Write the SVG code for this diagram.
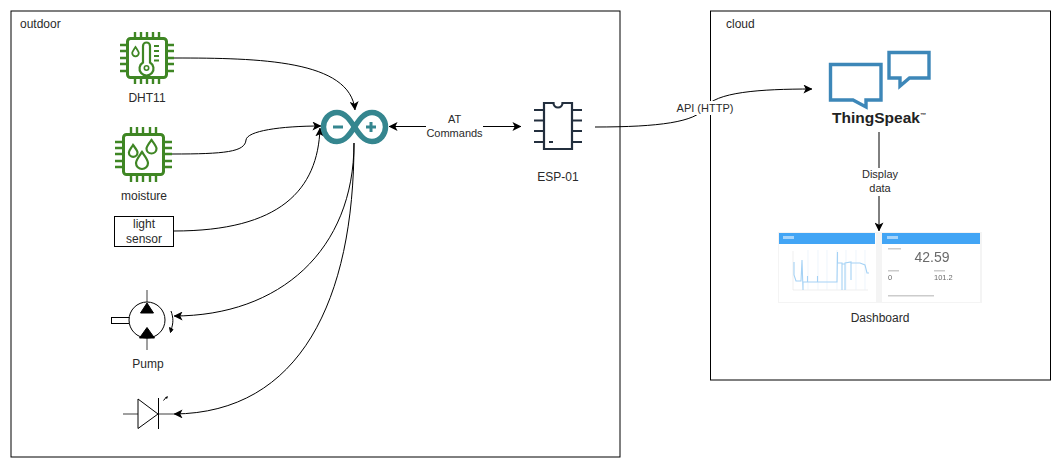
<svg xmlns="http://www.w3.org/2000/svg" width="1061" height="467" viewBox="0 0 1061 467">
<style>
text{font-family:"Liberation Sans",Arial,sans-serif;font-size:12px;fill:#2a2a2a;text-anchor:middle}
.e{font-size:11px}
.frame{fill:#fff;stroke:#000;stroke-width:1}
.t{text-anchor:start}
.conn{fill:none;stroke:#000;stroke-width:1}
.lab{fill:#fff;stroke:none}
.chip{fill:none;stroke:#3f8624;stroke-width:3;stroke-linejoin:round}
.pin{stroke:#3f8624;stroke-width:2.400;fill:none}
.drop{fill:none;stroke:#3f8624;stroke-width:2.200}
.esp{fill:none;stroke:#232f3e;stroke-width:2.200}
.sym{fill:#fff;stroke:#000;stroke-width:1}
.lead{stroke:#808080;stroke-width:1.500;fill:none}
.ts{fill:#fff;stroke:#3d87b8;stroke-width:3.400}
.tiny{fill:#ccc}
</style>
<defs>
<marker id="a" viewBox="0 0 10 10" refX="9.500" refY="5" markerWidth="9" markerHeight="9" markerUnits="userSpaceOnUse" orient="auto-start-reverse"><path d="M0 0L10 5L0 10L2.500 5Z" fill="#000"/></marker>
<filter id="b" x="-5%" y="-5%" width="110%" height="110%"><feGaussianBlur stdDeviation="0.4"/></filter>
</defs>

<g id="outdoor"><rect class="frame" x="11" y="11" width="609" height="446"/><text class="t" x="20" y="28">outdoor</text></g>
<g id="cloud"><rect class="frame" x="710.500" y="11" width="340" height="369"/><text class="t" x="726" y="28">cloud</text></g>

<g id="connectors">
<path class="conn" marker-end="url(#a)" d="M174 58C260 58 350 60 355 110"/>
<path class="conn" marker-end="url(#a)" d="M172 154C225 154 245 152 246 140C247 131 280 126 321 126"/>
<path class="conn" marker-end="url(#a)" d="M174 231C280 231 318 190 320 128"/>
<path class="conn" marker-end="url(#a)" d="M354 143C354 250 280 316 174 316"/>
<path class="conn" marker-end="url(#a)" d="M354 143C354 300 300 413 174 414"/>
<path class="conn" marker-start="url(#a)" marker-end="url(#a)" d="M389 126.500H521"/>
<path class="conn" marker-end="url(#a)" d="M595 127C660 127 695 122 705 108C715 92 760 89 812 89"/>
<path class="conn" marker-end="url(#a)" d="M879 132V231"/>
</g>

<g id="dht11">
<rect class="chip" x="127.500" y="38.500" width="39" height="39" rx="3"/>
<path class="pin" d="M135 32v6M141 32v6M147 32v6M153 32v6M159 32v6M135 78v6M141 78v6M147 78v6M153 78v6M159 78v6M120 45h7M120 51h7M120 58h7M120 64h7M120 71h7M167 45h7M167 51h7M167 58h7M167 64h7M167 71h7"/>
<path class="drop" d="M143 46a3.500 3.500 0 0 1 7 0V62.500a7 7 0 1 1 -7 0Z"/>
<circle cx="146.500" cy="68" r="2.200" fill="none" stroke="#3f8624" stroke-width="1.600"/>
<path class="drop" d="M135.500 47c2 3 3.300 5 3.300 6a3.300 3.300 0 0 1 -6.600 0c0-1 1.300-3 3.300-6Z" style="stroke-width:1.800px"/>
<path class="pin" d="M154 46h5M154 51h5M154 56h5M154 60.500h5" style="stroke-width:2px"/>
<text x="147" y="102">DHT11</text>
</g>

<g id="moisture">
<rect class="chip" x="123.500" y="134.500" width="40" height="40" rx="3"/>
<path class="pin" d="M131 127v7M137 127v7M143 127v7M150 127v7M156 127v7M131 175v7M137 175v7M143 175v7M150 175v7M156 175v7M115 142h8M115 148h8M115 154h8M115 161h8M115 167h8M164 142h8M164 148h8M164 154h8M164 161h8M164 167h8"/>
<path class="drop" d="M133 145c3 4 4.500 5.500 4.500 7.500a4.300 4.300 0 0 1 -8.600 0c0-2 1.500-3.500 4.100-7.500Z"/>
<path class="drop" d="M151.500 140c3 4 5 6.500 5 8.500a5 5 0 0 1 -10 0c0-2 2-4.500 5-8.500Z"/>
<path class="drop" d="M142 152c3.500 5 6 8 6 11a6 6 0 0 1 -12 0c0-3 2.500-6 6-11Z"/>
<text x="144" y="200">moisture</text>
</g>

<g id="light-sensor"><rect class="sym" x="114.500" y="216.500" width="59" height="30"/><text x="144" y="228">light</text><text x="144" y="243">sensor</text></g>

<g id="pump">
<path class="lead" d="M147 290V303M147 337V350"/>
<rect class="sym" x="111.500" y="317.500" width="18" height="6"/>
<circle class="sym" cx="147" cy="320" r="18"/>
<path d="M147 303L140.500 313H153.500ZM147 327.500L139.500 338H154.500Z" fill="#000" stroke="#000" stroke-width="1"/>
<path d="M171 311C173.500 318 173.500 323 171 330" fill="none" stroke="#000"/>
<path d="M169.500 327.500L173 329.500L170.500 332.500Z" fill="#000" stroke="#000" stroke-width="1"/>
<text x="148" y="368">Pump</text>
</g>

<g id="led">
<path class="lead" d="M123 414H138M158 414H174"/>
<path class="sym" d="M138 399L158 414L138 428.500Z"/>
<path d="M158.500 398V429" stroke="#000" fill="none"/>
<path d="M163.500 400.500L166 397.500" stroke="#000" fill="none"/>
<path d="M165.500 397.500L167.500 396.500L167 398.500Z" fill="#000" stroke="#000" stroke-width=".6"/>
</g>

<g id="arduino">
<path d="M354.500 127C350 120 345 112.500 337 112.500C328.500 112.500 323.500 120 323.500 127C323.500 134 328.500 141.500 337 141.500C345 141.500 350 134 354.500 127C359 120 364 112.500 372 112.500C380.500 112.500 385.500 120 385.500 127C385.500 134 380.500 141.500 372 141.500C364 141.500 359 134 354.500 127Z" fill="none" stroke="#35868f" stroke-width="5.500"/>
<path d="M333 127h10M366 127h10M371 122v10" stroke="#35868f" stroke-width="3" fill="none"/>
</g>

<g id="at-label"><rect class="lab" x="426" y="112" width="57" height="29"/><text class="e" x="454.500" y="123">AT</text><text class="e" x="454.500" y="137">Commands</text></g>

<g id="esp01">
<path class="esp" d="M544 103H553.500A4.500 4.500 0 0 0 562.500 103H572V149H544Z"/>
<path class="esp" d="M534 110H544M534 120.500H544M534 131H544M534 142H544M572 110H582M572 120.500H582M572 131H582M572 142H582"/>
<path d="M549 142h4" stroke="#232f3e" stroke-width="2"/>
<text x="558" y="181">ESP-01</text>
</g>

<g id="api-label"><rect class="lab" x="676" y="101" width="58" height="14"/><text class="e" x="705" y="112">API (HTTP)</text></g>

<g id="thingspeak">
<path class="ts" d="M830.500 64.500H881V100H866V107L853 100H830.500Z"/>
<path class="ts" d="M889 52.500H929V78H909.500L900 86V78H889Z"/>
<text x="879" y="123" style="font-size:15.500px;font-weight:bold;fill:#222">ThingSpeak<tspan font-size="6" dy="-6">™</tspan></text>
</g>

<g id="display-label"><rect class="lab" x="860" y="168" width="38" height="28"/><text class="e" x="880" y="178">Display</text><text class="e" x="880" y="192">data</text></g>

<g id="dashboard">
<g filter="url(#b)">
<rect x="778" y="232" width="204" height="71" fill="#f4f4f4"/>
<rect x="779" y="233" width="97" height="69" fill="#fff"/>
<rect x="779" y="233" width="96" height="11" fill="#42a5f5"/>
<rect x="882" y="233" width="98" height="69" fill="#fff"/>
<rect x="882" y="233" width="98" height="11" fill="#42a5f5"/>
<path d="M783 236h11v3h-11ZM887 236h11v3h-11Z" fill="#a6d4fa"/>
<path d="M793 251V290H868" fill="none" stroke="#ddd" stroke-width=".5"/>
<path d="M808 250V290M818 250V290M827 250V290M837 250V290M846 250V290M856 250V290M865 250V290" stroke="#e6f1fa" stroke-width=".7"/>
<path d="M794 262V275L796 281H801L802 260L803 290V282H807.500V276V282H817.500V276V282H837L837.500 252V263H842V290V264H845V290V263L851 262V280V263H860L865 265L867 273H869" fill="none" stroke="#a5d2f5" stroke-width="1.100"/>
<path d="M888 248h13v1.500h-13ZM888 270h11v1.500h-11ZM934 270h11v1.500h-11ZM888 295h46v1.500h-46Z" class="tiny"/>
<text class="t" x="914.500" y="262" style="font-size:14px;fill:#6a6a6a">42.59</text>
<text class="t" x="888" y="280" style="font-size:7.500px;fill:#6a6a6a">0</text>
<text class="t" x="934" y="280" style="font-size:7.500px;fill:#6a6a6a">101.2</text>
</g>
<text x="880" y="322">Dashboard</text>
</g>
</svg>
